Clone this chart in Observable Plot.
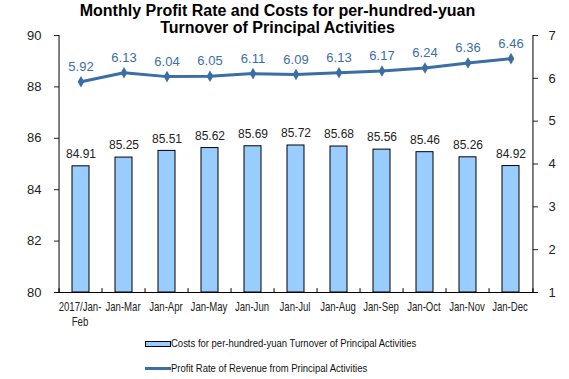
<!DOCTYPE html>
<html>
<head>
<meta charset="utf-8">
<script src="https://cdn.jsdelivr.net/npm/d3@7"></script>
<script src="https://cdn.jsdelivr.net/npm/@observablehq/plot@0.6"></script>
<style>
  body { margin: 0; background: #fff; font-family: "Liberation Sans", Arial, sans-serif; }
  #wrap { position: relative; width: 569px; height: 379px; overflow: hidden; }
  #title { position: absolute; left: -14px; width: 583px; top: 2px; text-align: center; font-weight: bold; font-size: 16px; line-height: 17px; color: #000; }
  .leg { position: absolute; font-size: 11.5px; line-height: 14px; color: #111; white-space: nowrap; }
  .sw { position: absolute; }
  .lt { position: absolute; left: 26px; top: 0; transform: scaleX(0.825); transform-origin: 0 50%; }
</style>
</head>
<body>
<div id="wrap">
  <div id="chart"></div>
  <div id="title">Monthly Profit Rate and Costs for per-hundred-yuan<br>Turnover of Principal Activities</div>
  <div class="leg" style="left:145px; top:336px;"><span class="sw" style="left:0;top:5px;width:24px;height:4px;background:#99CCFF;border:1px solid #000;"></span><span class="lt">Costs for per-hundred-yuan Turnover of Principal Activities</span></div>
  <div class="leg" style="left:145px; top:361px;"><span class="sw" style="left:0;top:6px;width:26px;height:3px;background:#3A6EA5;"></span><span class="lt">Profit Rate of Revenue from Principal Activities</span></div>
</div>
<script>
const categories = ["2017/Jan-\nFeb", "Jan-Mar", "Jan-Apr", "Jan-May", "Jan-Jun", "Jan-Jul", "Jan-Aug", "Jan-Sep", "Jan-Oct", "Jan-Nov", "Jan-Dec"];
const costs = [84.91, 85.25, 85.51, 85.62, 85.69, 85.72, 85.68, 85.56, 85.46, 85.26, 84.92];
const profitRate = [5.92, 6.13, 6.04, 6.05, 6.11, 6.09, 6.13, 6.17, 6.24, 6.36, 6.46];
const leftTicks = [80, 82, 84, 86, 88, 90];
const rightTicks = [1, 2, 3, 4, 5, 6, 7];

// map right-axis values (1..7) onto the left scale (80..90)
const toLeft = v => 80 + (v - 1) * 10 / 6;
const fromLeft = y => 1 + (y - 80) * 6 / 10;

const data = categories.map((c, i) => ({cat: c, cost: costs[i], rate: profitRate[i], rateY: toLeft(profitRate[i])}));

const W = 569, H = 379, mL = 54, mR = 32, mT = 35, mB = 87;
const step = (W - mL - mR) / categories.length;

const font = "Liberation Sans, Arial, sans-serif";
const plot = Plot.plot({
  width: W, height: H,
  marginLeft: mL, marginRight: mR, marginTop: mT, marginBottom: mB,
  style: {fontFamily: font, fontSize: "12px", color: "#222", background: "transparent"},
  x: {domain: categories, paddingInner: 0.6, paddingOuter: 0.3},
  y: {domain: [80, 90]},
  marks: [
    Plot.barY(data, {x: "cat", y1: 80, y2: "cost", fill: "#99CCFF", stroke: "#000", strokeWidth: 1}),
    Plot.text(data, {x: "cat", y: "cost", text: d => d.cost.toFixed(2), dy: -12, fill: "#222", fontSize: 12}),
    Plot.line(data, {x: "cat", y: "rateY", stroke: "#3A6EA5", strokeWidth: 3}),
    Plot.dot(data, {x: "cat", y: "rateY", symbol: "diamond", r: 3.5, fill: "#3A6EA5"}),
    Plot.text(data, {x: "cat", y: "rateY", text: d => d.rate.toFixed(2), dy: -15, fill: "#3A6EA5", fontSize: 13}),
    Plot.axisY({anchor: "left", ticks: leftTicks, tickSize: -5, tickPadding: 18, label: null, fontSize: 13, color: "#222"}),
    Plot.axisY({anchor: "right", ticks: rightTicks.map(toLeft), tickFormat: d => Math.round(fromLeft(d)), tickSize: -5, tickPadding: 16, label: null, fontSize: 13, color: "#222"}),
    Plot.ruleX(categories, {x: d => d, dx: -step / 2, y1: 80, y2: 80.15, stroke: "#000"}),
    Plot.ruleX([categories[categories.length - 1]], {x: d => d, dx: step / 2, y1: 80, y2: 80.15, stroke: "#000"}),
    Plot.axisX({tickSize: 0, tickPadding: 8, label: null, fontSize: 12, lineHeight: 1.25, dx: -1}),
    Plot.ruleY([80], {stroke: "#000"}),
    Plot.ruleX([categories[0]], {dx: -step / 2, y1: 80, y2: 90, stroke: "#000"}),
    Plot.ruleX([categories[categories.length - 1]], {dx: step / 2, y1: 80, y2: 90, stroke: "#000"})
  ]
});
// condense the category labels horizontally, as in the reference
plot.querySelectorAll('g[aria-label="x-axis tick label"] text').forEach(t => {
  const tr = t.getAttribute("transform") || "";
  t.setAttribute("transform", tr + " scale(0.8,1)");
});
document.getElementById("chart").appendChild(plot);
</script>
</body>
</html>
